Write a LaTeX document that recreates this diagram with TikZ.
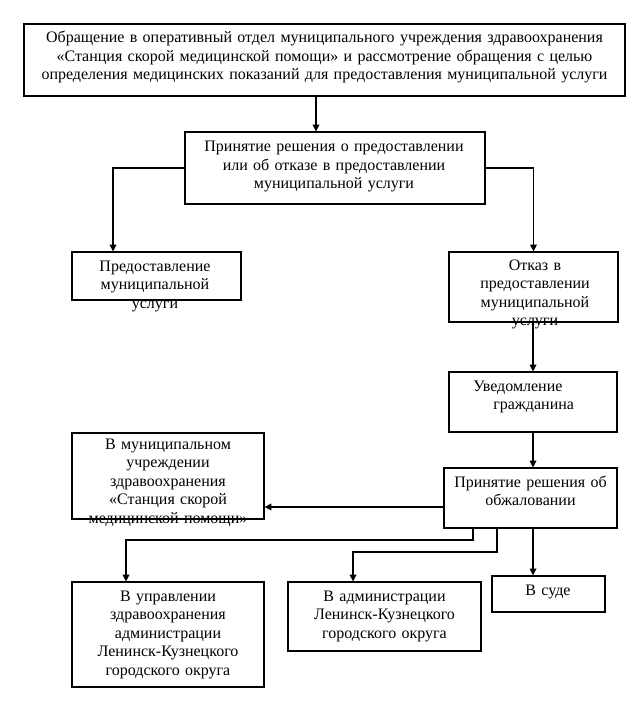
\documentclass[tikz,border=0pt]{standalone}
\usepackage{fontspec}
\setmainfont{Liberation Serif}
\usetikzlibrary{arrows.meta, positioning, fit}

\begin{document}
\begin{tikzpicture}[
    x=0.75pt, y=-0.75pt,
    box/.style={rectangle, draw, inner sep=0pt, line width=0.9pt},
    txt/.style={text width=17cm, align=center, inner sep=0pt, anchor=base, font=\fontsize{12pt}{13.8pt}\selectfont},
    arrow/.style={-{Triangle[length=5pt, width=5pt]}, line width=0.9pt},
]
    \useasboundingbox (0,0) rectangle (637,712);

    % boxes
    \node[box, fit={(24,24) (625,96)}] (obr) {};
    \node[box, fit={(185,132) (485,204)}] (resh) {};
    \node[box, fit={(72,252) (241,300)}] (pred) {};
    \node[box, fit={(449,252) (618,322)}] (otk) {};
    \node[box, fit={(449,372) (617,432)}] (uved) {};
    \node[box, fit={(444,468) (617,528)}] (obzh) {};
    \node[box, fit={(72,433) (264,519)}] (muni) {};
    \node[box, fit={(72,582) (264,687)}] (upr) {};
    \node[box, fit={(288,582) (481,651)}] (adm) {};
    \node[box, fit={(492,576) (605,612)}] (sud) {};

    % texts
    \node[txt] (obr-t) at (324.5,43) {Обращение в оперативный отдел муниципального учреждения здравоохранения\\«Станция скорой медицинской помощи» и рассмотрение обращения с целью\\определения медицинских показаний для предоставления муниципальной услуги};
    \node[txt] (resh-t) at (334,152) {Принятие решения о предоставлении\\или об отказе в предоставлении\\муниципальной услуги};
    \node[txt] (pred-t) at (155,271.5) {Предоставление\\муниципальной\\услуги};
    \node[txt] (otk-t) at (535,270.5) {Отказ в\\предоставлении\\муниципальной\\услуги};
    \node[txt, align=left, anchor=base west, text width=4cm] (uved-t) at (473,391.5) {Уведомление\\\hspace*{15pt}гражданина};
    \node[txt] (obzh-t) at (530.5,487.5) {Принятие решения об\\обжаловании};
    \node[txt] (muni-t) at (168,449.5) {В муниципальном\\учреждении\\здравоохранения\\«Станция скорой\\медицинской помощи»};
    \node[txt] (upr-t) at (168,601.5) {В управлении\\здравоохранения\\администрации\\Ленинск-Кузнецкого\\городского округа};
    \node[txt] (adm-t) at (384.5,601.5) {В администрации\\Ленинск-Кузнецкого\\городского округа};
    \node[txt] (sud-t) at (548,595.5) {В суде};

    % connectors
    \coordinate (a1) at (316,96);
    \coordinate (a6) at (444,507);
    \coordinate (a7) at (473,528);
    \coordinate (a8) at (497,528);
    \draw[arrow] (a1) -- (a1 |- resh.north);
    \draw[arrow] (resh.west) -| ([xshift=-32.6pt]pred.north);
    \draw[arrow] (resh.east) -| (otk.north);
    \draw[arrow] (otk.south -| uved.north) -- (uved.north);
    \draw[arrow] (uved.south) -- (uved.south |- obzh.north);
    \draw[arrow] (a6) -- (a6 -| muni.east);
    \draw[arrow] (a7) -- ++(0,12) -| ([xshift=-31.5pt]upr.north);
    \draw[arrow] (a8) -- ++(0,24) -| ([xshift=-23.6pt]adm.north);
    \draw[arrow] (obzh.south -| uved.south) -- (sud.north -| uved.south);
\end{tikzpicture}
\end{document}
